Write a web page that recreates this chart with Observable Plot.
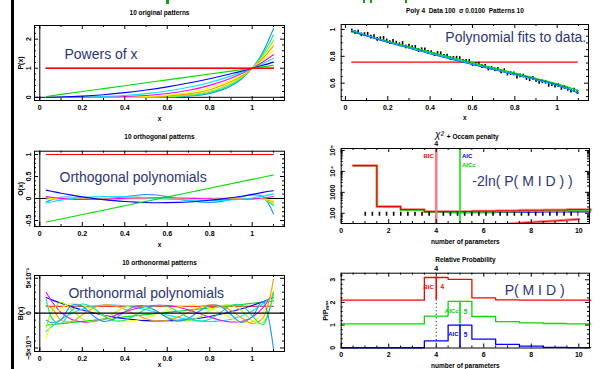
<!DOCTYPE html>
<html><head><meta charset="utf-8">
<script src="https://cdn.jsdelivr.net/npm/d3@7"></script>
<script src="https://cdn.jsdelivr.net/npm/@observablehq/plot@0.6"></script>
<style>
body{margin:0;background:#fff;}
#root{position:relative;width:609px;height:369px;overflow:hidden;background:#fff;font-family:"Liberation Sans",Arial,sans-serif;}
.deco{position:absolute;}
</style></head><body><div id="root"></div>
<script>
// ---------- DATA ----------
const colors10 = ["#ff0000","#00dd00","#0000ff","#00e5ff","#ff00ff","#ffff00","#ff9900","#99ff00","#00ee88","#1e90ff"];

// Panel 1: powers of x
const xsPow = [0.03,0.1,0.2,0.3,0.4,0.5,0.6,0.7,0.8,0.9,0.95,1.0,1.05,1.1];
const pow0 = [1,1,1,1,1,1,1,1,1,1,1,1,1,1];
const pow1 = [0.03,0.1,0.2,0.3,0.4,0.5,0.6,0.7,0.8,0.9,0.95,1.0,1.05,1.1];
const pow2 = [0.001,0.01,0.04,0.09,0.16,0.25,0.36,0.49,0.64,0.81,0.90,1.0,1.10,1.21];
const pow3 = [0,0.001,0.008,0.027,0.064,0.125,0.216,0.343,0.512,0.729,0.857,1,1.158,1.331];
const pow4 = [0,0,0.002,0.008,0.026,0.063,0.130,0.240,0.410,0.656,0.815,1,1.216,1.464];
const pow5 = [0,0,0,0.002,0.010,0.031,0.078,0.168,0.328,0.590,0.774,1,1.276,1.611];
const pow6 = [0,0,0,0.001,0.004,0.016,0.047,0.118,0.262,0.531,0.735,1,1.340,1.772];
const pow7 = [0,0,0,0,0.002,0.008,0.028,0.082,0.210,0.478,0.698,1,1.407,1.949];
const pow8 = [0,0,0,0,0.001,0.004,0.017,0.058,0.168,0.430,0.663,1,1.477,2.144];
const pow9 = [0,0,0,0,0,0.002,0.010,0.040,0.134,0.387,0.630,1,1.551,2.358];

// Panels 2 & 3 share x samples
const xsPoly = [0.03,0.06,0.10,0.15,0.20,0.25,0.30,0.35,0.40,0.45,0.50,0.55,0.60,0.65,0.70,0.75,0.80,0.85,0.90,0.95,1.00,1.05,1.10];
// Panel 2: orthogonal patterns
const orth0 = [1,1,1,1,1,1,1,1,1,1,1,1,1,1,1,1,1,1,1,1,1,1,1];
const orth1 = [-0.535,-0.505,-0.465,-0.415,-0.365,-0.315,-0.265,-0.215,-0.165,-0.115,-0.065,-0.015,0.035,0.085,0.135,0.185,0.235,0.285,0.335,0.385,0.435,0.485,0.535];
const orth2 = [0.191,0.160,0.120,0.077,0.038,0.004,-0.026,-0.049,-0.068,-0.082,-0.091,-0.096,-0.094,-0.088,-0.078,-0.061,-0.040,-0.015,0.017,0.053,0.094,0.140,0.175];
const orth3 = [-0.106,-0.072,-0.036,-0.001,0.024,0.039,0.046,0.046,0.041,0.032,0.019,0.004,-0.010,-0.024,-0.036,-0.044,-0.048,-0.044,-0.035,-0.016,0.013,0.054,0.106];
const orth4 = [0.045,0.023,0.002,-0.014,-0.019,-0.018,-0.013,-0.005,0.003,0.010,0.014,0.017,0.016,0.013,0.007,-0.001,-0.008,-0.015,-0.019,-0.018,-0.009,0.011,0.045];
const orth5 = [-0.027,-0.008,0.006,0.011,0.009,0.003,-0.003,-0.007,-0.009,-0.009,-0.006,-0.001,0.003,0.007,0.009,0.009,0.006,0.000,-0.006,-0.010,-0.010,0.000,-0.05];
const orth6 = [0.022,0.002,-0.008,-0.007,-0.002,0.004,0.007,0.006,0.003,-0.001,-0.005,-0.007,-0.006,-0.003,0.001,0.005,0.007,0.006,0.002,-0.004,-0.009,-0.004,-0.08];
const orth7 = [-0.019,0.002,0.008,0.003,-0.004,-0.006,-0.004,0.000,0.004,0.006,0.004,0.001,-0.003,-0.005,-0.005,-0.003,0.002,0.005,0.006,0.002,-0.005,-0.007,-0.12];
const orth8 = [0.016,-0.003,-0.006,0.002,0.005,0.003,-0.001,-0.004,-0.004,-0.001,0.002,0.004,0.004,0.001,-0.003,-0.005,-0.004,0.000,0.004,0.005,-0.001,-0.007,-0.16];
const orth9 = [-0.08,-0.02,0.03,0.03,0.01,-0.01,-0.01,0.01,0.04,0.07,0.09,0.08,0.04,-0.01,-0.05,-0.08,-0.09,-0.07,-0.02,0.04,0.08,0.05,-0.35];

// Panel 3: orthonormal patterns (units of 1e-3)
const on0 = [1,1,1,1,1,1,1,1,1,1,1,1,1,1,1,1,1,1,1,1,1,1,1];
const on1 = [-1.73,-1.63,-1.50,-1.34,-1.18,-1.02,-0.86,-0.70,-0.53,-0.37,-0.21,-0.05,0.11,0.28,0.44,0.60,0.76,0.92,1.08,1.25,1.41,1.57,1.73];
const on2 = [2.24,1.87,1.41,0.90,0.44,0.05,-0.30,-0.57,-0.80,-0.96,-1.07,-1.12,-1.10,-1.03,-0.91,-0.72,-0.47,-0.17,0.20,0.62,1.10,1.64,2.24];
const on3 = [-2.65,-1.80,-0.90,-0.03,0.61,0.98,1.16,1.16,1.03,0.79,0.48,0.11,-0.26,-0.61,-0.90,-1.11,-1.19,-1.11,-0.87,-0.40,0.32,1.35,2.65];
const on4 = [3.0,1.53,0.11,-0.90,-1.27,-1.20,-0.84,-0.36,0.17,0.64,0.96,1.12,1.08,0.85,0.46,-0.04,-0.56,-1.01,-1.26,-1.19,-0.57,0.75,3.0];
const on5 = [-3.6,-1.04,0.69,1.39,1.12,0.42,-0.34,-0.89,-1.15,-1.07,-0.70,-0.17,0.40,0.88,1.13,1.09,0.69,0.06,-0.70,-1.30,-1.24,0.04,3.32];
const on6 = [1.1,0.6,-1.0,-1.22,-0.25,0.72,1.17,1.07,0.53,-0.18,-0.80,-1.11,-1.03,-0.57,0.11,0.78,1.19,1.04,0.37,-0.65,-1.46,-0.72,4.9];
const on7 = [-2.0,0.39,1.55,0.53,-0.82,-1.26,-0.81,0.03,0.84,1.14,0.89,0.23,-0.53,-1.06,-1.07,-0.59,0.38,1.03,1.14,0.36,-1.09,-1.36,2.6];
const on8 = [2.0,-0.86,-1.47,0.39,1.32,0.76,-0.36,-1.09,-1.02,-0.31,0.58,1.10,0.96,0.24,-0.64,-1.15,-0.89,0.09,1.10,1.14,-0.35,-1.66,3.0];
const on9 = [-1.0,-1.38,-0.93,1.14,1.01,-0.36,-1.18,-0.84,0.18,1.0,1.03,0.30,-0.65,-1.14,-0.75,0.26,1.10,0.98,-0.20,-1.32,-0.51,1.71,-5.1];

// Panel 4: data and fits
const dataX = [0.030,0.045,0.060,0.075,0.090,0.105,0.120,0.135,0.150,0.165,0.180,0.195,0.210,0.225,0.240,0.255,0.270,0.285,0.300,0.315,0.330,0.345,0.360,0.375,0.390,0.405,0.420,0.435,0.450,0.465,0.480,0.495,0.510,0.525,0.540,0.555,0.570,0.585,0.600,0.615,0.630,0.645,0.660,0.675,0.690,0.705,0.720,0.735,0.750,0.765,0.780,0.795,0.810,0.825,0.840,0.855,0.870,0.885,0.900,0.915,0.930,0.945,0.960,0.975,0.990,1.005,1.020,1.035,1.050,1.065,1.080,1.095];
const dataY = [0.989,0.976,0.980,0.960,0.962,0.964,0.943,0.947,0.926,0.931,0.933,0.914,0.902,0.912,0.898,0.886,0.896,0.870,0.876,0.864,0.866,0.843,0.849,0.848,0.830,0.828,0.812,0.821,0.819,0.799,0.801,0.784,0.785,0.786,0.783,0.762,0.762,0.763,0.739,0.740,0.741,0.723,0.726,0.705,0.711,0.700,0.702,0.684,0.693,0.668,0.672,0.669,0.646,0.655,0.653,0.635,0.626,0.635,0.621,0.606,0.610,0.607,0.584,0.590,0.578,0.582,0.561,0.568,0.554,0.541,0.548,0.532];
const sigma = 0.01;
const fitX = [0.03,0.2,0.4,0.6,0.8,1.0,1.1];
const fitLinear = [0.982,0.912,0.832,0.753,0.674,0.594,0.545];
const fitPoly = [0.990,0.905,0.820,0.740,0.665,0.585,0.527];
const fitPoly2 = [0.992,0.907,0.822,0.742,0.664,0.583,0.531];
const meanY = 0.757;

// Panel 5: -2 ln P(M|D)
const nParams = [1,2,3,4,5,6,7,8,9,10];
const scoreBIC  = [19000,210,150,120,122,126,132,138,144,150];
const scoreAICc = [19000,205,140,113,110,112,116,126,128,130];
const scoreAIC  = [19000,203,137,111,106,107,109,113,115,117];
const chiExpect = 95;
const lowerX = [6.9,7.5,8,8.5,9,9.5,10];
const lowerY = [30,34,37,40,43,47,52];

// Panel 6: relative probability
const relBIC  = [0,0,0,1.0,0.92,0.1,0.01,0,0,0];
const relAICc = [0,0,0,0.35,1.0,0.33,0.1,0.05,0.02,0];
const relAIC  = [0,0,0,0.30,1.0,0.38,0.15,0.07,0.02,0.01];
const offBIC = 2.1, offAICc = 1.05, offAIC = 0;
const bestBIC = 4, bestAICc = 5, bestAIC = 5;

// ---------- HELPERS ----------
const NAVY = "#2b3576";
const root = document.getElementById("root");
function rows(xs, ys){ return xs.map((x,i)=>({x, y: ys[i]})); }
function seq(a,b,s){ const r=[]; for(let i=0;;i++){ const v=+(a+i*s).toFixed(6); if(v>b+1e-9) break; r.push(v);} return r; }
function minor(a,b,s,maj){ return seq(a,b,s).filter(v=>!maj.some(m=>Math.abs(m-v)<1e-9)); }
function box({xMaj,xMin,yMaj,yMin,iw,ih}){
  const M=4, m=2, st={stroke:"#000", strokeWidth:1};
  return [
    Plot.tickX(xMaj,{x:d=>d, insetTop: ih-M, ...st}),
    Plot.tickX(xMaj,{x:d=>d, insetBottom: ih-M, ...st}),
    Plot.tickX(xMin,{x:d=>d, insetTop: ih-m, ...st}),
    Plot.tickX(xMin,{x:d=>d, insetBottom: ih-m, ...st}),
    Plot.tickY(yMaj,{y:d=>d, insetRight: iw-M, ...st}),
    Plot.tickY(yMaj,{y:d=>d, insetLeft: iw-M, ...st}),
    Plot.tickY(yMin,{y:d=>d, insetRight: iw-m, ...st}),
    Plot.tickY(yMin,{y:d=>d, insetLeft: iw-m, ...st}),
    Plot.frame({stroke:"#000", strokeWidth:1})
  ];
}
function axes({xMaj,yMaj,xFmt,yFmt,xPad=5,yPad=6}){
  return [
    Plot.axisX(xMaj,{anchor:"bottom", tickSize:0, tickPadding:xPad, tickFormat:xFmt||(d=>String(d)), label:null, fontSize:7, fontWeight:"bold"}),
    Plot.axisY(yMaj,{anchor:"left", tickSize:0, tickPadding:yPad, tickRotate:-90, textAnchor:"middle", lineAnchor:"middle", tickFormat:yFmt||(d=>String(d)), label:null, fontSize:7, fontWeight:"bold"})
  ];
}
function title(str, dy){ return Plot.text([str],{frameAnchor:"top", dy, lineAnchor:"middle", fontSize:6.5, fontWeight:"bold", fill:"#000"}); }
function xlab(str, dy){ return Plot.text([str],{frameAnchor:"bottom", dy, lineAnchor:"middle", fontSize:6.5, fontWeight:"bold", fill:"#000"}); }
function ylab(str, dx){ return Plot.text([str],{frameAnchor:"left", dx, rotate:-90, textAnchor:"middle", lineAnchor:"middle", fontSize:7, fontWeight:"bold", fill:"#000"}); }
function place(svg,left,top){ svg.style.position="absolute"; svg.style.left=left+"px"; svg.style.top=top+"px"; root.appendChild(svg); }
const baseStyle = {background:"transparent", fontFamily:"'Liberation Sans', Arial, sans-serif", fontSize:"7px", fontWeight:"bold", overflow:"visible"};
function stepRows(xsP, vals, off, start, end){
  const r=[]; if(start!=null) r.push({x:start, y:off+vals[0]});
  xsP.forEach((p,i)=>{ r.push({x:p-0.5,y:off+vals[i]}); r.push({x:p+0.5,y:off+vals[i]}); });
  r.push({x:end, y:off+vals[vals.length-1]});
  return r;
}

// ---------- PANEL 1 ----------
{
  const W=300,H=125,mL=34,mR=16,mT=25,mB=25, iw=W-mL-mR, ih=H-mT-mB;
  const xMaj=seq(0,1,0.2), yMaj=[0,1,2];
  const series=[pow0,pow1,pow2,pow3,pow4,pow5,pow6,pow7,pow8,pow9];
  const marks=[
    Plot.ruleY([0],{stroke:"#000"}), Plot.ruleX([0],{stroke:"#000"}),
    ...series.map((s,k)=>Plot.line(rows(xsPow,s),{x:"x",y:"y",stroke:colors10[(k+0)%10], strokeWidth:1.1, curve:"monotone-x"})).reverse(),
    Plot.line(rows(xsPow,pow0),{x:"x",y:"y",stroke:colors10[0],strokeWidth:1.6}),
    Plot.text(["Powers of x"],{x:0.116,y:1.334,textAnchor:"start",lineAnchor:"bottom",fontSize:14,fontWeight:"normal",fill:NAVY}),
    ...box({xMaj,xMin:minor(0,1.1,0.1,xMaj),yMaj,yMin:minor(0,2.4,0.2,yMaj),iw,ih}),
    ...axes({xMaj,yMaj}),
    title("10 original patterns",-13), xlab("x",18), ylab("P(x)",-14)
  ];
  place(Plot.plot({width:W,height:H,marginLeft:mL,marginRight:mR,marginTop:mT,marginBottom:mB,
    x:{domain:[-0.025,1.152]}, y:{domain:[-0.11,2.47]}, style:baseStyle, marks}),0,0);
}
// ---------- PANEL 2 ----------
{
  const W=300,H=125,mL=34,mR=16,mT=25.7,mB=24, iw=W-mL-mR, ih=H-mT-mB;
  const xMaj=seq(0,1,0.2), yMaj=[-0.5,0,0.5,1];
  const series=[orth0,orth1,orth2,orth3,orth4,orth5,orth6,orth7,orth8,orth9];
  const marks=[
    Plot.ruleY([0],{stroke:"#000"}), Plot.ruleX([0],{stroke:"#000"}),
    ...series.map((s,k)=>Plot.line(rows(xsPoly,s),{x:"x",y:"y",stroke:colors10[k], strokeWidth:1.1, curve:"catmull-rom"})).reverse(),
    Plot.text(["Orthogonal polynomials"],{x:0.093,y:0.364,textAnchor:"start",lineAnchor:"bottom",fontSize:14,fontWeight:"normal",fill:NAVY}),
    ...box({xMaj,xMin:minor(0,1.1,0.1,xMaj),yMaj,yMin:minor(-0.6,1.0,0.1,yMaj),iw,ih}),
    ...axes({xMaj,yMaj}),
    title("10 orthogonal patterns",-14.7), xlab("x",18), ylab("O(x)",-14)
  ];
  place(Plot.plot({width:W,height:H,marginLeft:mL,marginRight:mR,marginTop:mT,marginBottom:mB,
    x:{domain:[-0.025,1.152]}, y:{domain:[-0.636,1.075]}, style:baseStyle, marks}),0,125);
}
// ---------- PANEL 3 ----------
{
  const W=300,H=119,mL=34,mR=16,mT=25,mB=18, iw=W-mL-mR, ih=H-mT-mB;
  const xMaj=seq(0,1,0.2), yMaj=[-5,0,5];
  const series=[on0,on1,on2,on3,on4,on5,on6,on7,on8,on9];
  const yFmt = d => d===0 ? "0" : (d<0 ? "\u22125\u00d710\u207b\u00b3" : "5\u00d710\u207b\u00b3");
  const marks=[
    Plot.ruleX([0],{stroke:"#000"}),
    ...series.map((s,k)=>Plot.line(rows(xsPoly,s),{x:"x",y:"y",stroke:colors10[k], strokeWidth:1.1, curve:"catmull-rom", clip:true})),
    Plot.ruleY([0],{stroke:"#000", strokeWidth:1.4}),
    Plot.text(["Orthonormal polynomials"],{x:0.135,y:2.24,textAnchor:"start",lineAnchor:"bottom",fontSize:14,fontWeight:"normal",fill:NAVY}),
    ...box({xMaj,xMin:minor(0,1.1,0.1,xMaj),yMaj,yMin:minor(-5,5,1,yMaj),iw,ih}),
    ...axes({xMaj,yMaj,yFmt}),
    title("10 orthonormal patterns",-13), xlab("x",13.5), ylab("B(x)",-14)
  ];
  place(Plot.plot({width:W,height:H,marginLeft:mL,marginRight:mR,marginTop:mT,marginBottom:mB,
    x:{domain:[-0.025,1.152]}, y:{domain:[-5.5,5.4]}, style:baseStyle, marks}),0,250);
}
// ---------- PANEL 4 ----------
{
  const W=309,H=125,mL=40.7,mR=21,mT=24,mB=25, iw=W-mL-mR, ih=H-mT-mB;
  const xMaj=seq(0,1,0.2), yMaj=[0.6,0.8,1];
  const pts=rows(dataX,dataY);
  const marks=[
    Plot.ruleY([meanY],{x1:fitX[0],x2:fitX[fitX.length-1],stroke:"#ff0000",strokeWidth:1.3}),
    Plot.ruleX(pts,{x:"x",y1:d=>d.y-1.4*sigma,y2:d=>d.y+1.4*sigma,stroke:"#000",strokeWidth:1.6}),
    Plot.line(rows(fitX,fitLinear),{x:"x",y:"y",stroke:"#00dd00",strokeWidth:1.3,curve:"natural"}),
    Plot.line(rows(fitX,fitPoly),{x:"x",y:"y",stroke:"#0000ff",strokeWidth:1.3,curve:"natural"}),
    Plot.line(rows(fitX,fitPoly2),{x:"x",y:"y",stroke:"#00bfff",strokeWidth:1.1,curve:"natural"}),
    Plot.text(["Polynomial fits to data."],{x:0.472,y:0.907,textAnchor:"start",lineAnchor:"bottom",fontSize:14,fontWeight:"normal",fill:NAVY}),
    ...box({xMaj,xMin:minor(0,1.1,0.1,xMaj),yMaj,yMin:minor(0.5,1.0,0.05,yMaj),iw,ih}),
    ...axes({xMaj,yMaj,yPad:8.5,xPad:4.5}),
    title("Poly 4  Data 100  \u03c3 0.0100  Patterns 10",-14), xlab("x",17)
  ];
  place(Plot.plot({width:W,height:H,marginLeft:mL,marginRight:mR,marginTop:mT,marginBottom:mB,
    x:{domain:[-0.02,1.148]}, y:{domain:[0.471,1.037]}, style:baseStyle, marks}),300,0);
}
// ---------- PANEL 5 ----------
{
  const W=309,H=125,mL=40.7,mR=20,mT=23,mB=27, iw=W-mL-mR, ih=H-mT-mB;
  const xMaj=seq(0,10,2), yMaj=[100,1000,10000,100000];
  const yMin=[]; [10,100,1000,10000].forEach(d=>{for(let k=2;k<=9;k++){const v=d*k; if(v>32&&v<124000) yMin.push(v);}});
  const yFmt=d=>({100:"100",1000:"1000",10000:"10\u2074",100000:"10\u2075"})[d];
  const end=10.45;
  const marks=[
    Plot.line(stepRows(nParams,scoreAIC,0,null,end),{x:"x",y:"y",stroke:"#0000ff",strokeWidth:1.2}),
    Plot.line(stepRows(nParams,scoreBIC,0,null,end),{x:"x",y:"y",stroke:"#ff9a9a",strokeWidth:3}),
    Plot.line(stepRows(nParams,scoreAICc,0,null,end),{x:"x",y:"y",stroke:"#00dd00",strokeWidth:1.3}),
    Plot.line(stepRows(nParams,scoreBIC,0,null,end),{x:"x",y:"y",stroke:"#ee0000",strokeWidth:1.1}),
    Plot.line(rows(lowerX,lowerY),{x:"x",y:"y",stroke:"#ff9a9a",strokeWidth:3,clip:true}),
    Plot.line(rows(lowerX,lowerY),{x:"x",y:"y",stroke:"#ee0000",strokeWidth:1,clip:true}),
    Plot.ruleY([chiExpect],{x1:nParams[0],x2:nParams[nParams.length-1],stroke:"#000",strokeWidth:4,strokeDasharray:"1.6,5.5"}),
    Plot.ruleX([bestBIC],{stroke:"#ff7a7a",strokeWidth:2.6}),
    Plot.ruleX([bestAICc],{stroke:"#00dd00",strokeWidth:1.5}),
    Plot.text(["BIC"],{x:bestBIC,y:51600,dx:-2.5,textAnchor:"end",fill:"#ff0000",fontSize:6,fontWeight:"bold"}),
    Plot.text(["AIC"],{x:bestAICc,y:51600,dx:2,textAnchor:"start",fill:"#0000ff",fontSize:6,fontWeight:"bold"}),
    Plot.text(["AICc"],{x:bestAICc,y:19100,dx:2,textAnchor:"start",fill:"#00cc00",fontSize:6,fontWeight:"bold"}),
    Plot.text([bestBIC],{x:d=>d,text:d=>String(d),frameAnchor:"top",dy:-5,lineAnchor:"middle",fontSize:7,fontWeight:"bold"}),
    Plot.text(["-2ln( P( M I D ) )"],{x:5.52,y:2090,textAnchor:"start",lineAnchor:"bottom",fontSize:14,fontWeight:"normal",fill:NAVY}),
    ...box({xMaj,xMin:minor(0,10.4,0.5,xMaj),yMaj,yMin,iw,ih}),
    ...axes({xMaj,yMaj,yFmt,yPad:8.5,xPad:4.5}),
    Plot.text(["\u03c7\u00b2"],{frameAnchor:"top",dy:-14,dx:-26,lineAnchor:"middle",fontSize:10,fontWeight:"normal",fontStyle:"italic"}),
    Plot.text(["+ Occam penalty"],{frameAnchor:"top",dy:-12,dx:-18.5,textAnchor:"start",lineAnchor:"middle",fontSize:6.5,fontWeight:"bold"}),
    xlab("number of parameters",18.7)
  ];
  place(Plot.plot({width:W,height:H,marginLeft:mL,marginRight:mR,marginTop:mT,marginBottom:mB,
    x:{domain:[0,10.45]}, y:{type:"log",domain:[Math.pow(10,1.51),Math.pow(10,5.095)]}, style:baseStyle, marks}),300,125);
}
// ---------- PANEL 6 ----------
{
  const W=309,H=119,mL=40.7,mR=20,mT=22.7,mB=21.5, iw=W-mL-mR, ih=H-mT-mB;
  const xMaj=seq(0,10,2), yMaj=[0,1,2,3];
  const end=10.45;
  const marks=[
    Plot.ruleX([bestBIC],{y1:0,y2:offBIC,stroke:"#000",strokeWidth:1,strokeDasharray:"1,2.6"}),
    Plot.line(stepRows(nParams,relAIC,offAIC,0,end),{x:"x",y:"y",stroke:"#0000ff",strokeWidth:1.3}),
    Plot.line(stepRows(nParams,relAICc,offAICc,0,end),{x:"x",y:"y",stroke:"#00dd00",strokeWidth:1.3}),
    Plot.line(stepRows(nParams,relBIC,offBIC,0,end),{x:"x",y:"y",stroke:"#ff0000",strokeWidth:1.3}),
    Plot.ruleX([bestBIC],{y1:offBIC,y2:offBIC+1,stroke:"#ff0000",strokeWidth:1.6}),
    Plot.ruleX([bestAICc],{y1:offAICc,y2:offAICc+1,stroke:"#00dd00",strokeWidth:1.6}),
    Plot.ruleX([bestAIC],{y1:offAIC,y2:offAIC+1,stroke:"#0000ff",strokeWidth:1.6}),
    Plot.text(["BIC"],{x:bestBIC,y:2.67,dx:-2.5,textAnchor:"end",fill:"#ff0000",fontSize:6,fontWeight:"bold"}),
    Plot.text([String(bestBIC)],{x:bestBIC,y:2.67,dx:6,fill:"#ff0000",fontSize:6.5,fontWeight:"bold"}),
    Plot.text(["AICc"],{x:bestAICc,y:1.60,dx:-1.5,textAnchor:"end",fill:"#00cc00",fontSize:6,fontWeight:"bold"}),
    Plot.text([String(bestAICc)],{x:bestAICc,y:1.60,dx:5.5,fill:"#00cc00",fontSize:6.5,fontWeight:"bold"}),
    Plot.text(["AIC"],{x:bestAIC,y:0.585,dx:-1.5,textAnchor:"end",fill:"#0000ff",fontSize:6,fontWeight:"bold"}),
    Plot.text([String(bestAIC)],{x:bestAIC,y:0.585,dx:5.5,fill:"#0000ff",fontSize:6.5,fontWeight:"bold"}),
    Plot.text([bestBIC],{x:d=>d,text:d=>String(d),frameAnchor:"top",dy:-4.7,lineAnchor:"middle",fontSize:7,fontWeight:"bold"}),
    Plot.text(["P( M I D )"],{x:6.88,y:2.35,textAnchor:"start",lineAnchor:"bottom",fontSize:14,fontWeight:"normal",fill:NAVY}),
    ...box({xMaj,xMin:minor(0,10.4,0.5,xMaj),yMaj,yMin:minor(0,3.2,0.2,yMaj),iw,ih}),
    ...axes({xMaj,yMaj,yPad:8,xPad:4.5}),
    title("Relative Probability",-13.7), xlab("number of parameters",17.5), ylab("P/P\u2098\u2090\u2093",-15.7)
  ];
  place(Plot.plot({width:W,height:H,marginLeft:mL,marginRight:mR,marginTop:mT,marginBottom:mB,
    x:{domain:[0,10.45]}, y:{domain:[-0.01,3.29]}, style:baseStyle, marks}),300,250);
}
// decorations: slide edge bar and clipped heading fragments
[["#000",11,0,3,369],["#1a9a1a",166,0,3,4],["#1a9a1a",363,0,2,3],["#1a9a1a",370,0,2,3],["#1a9a1a",405,0,2,3]].forEach(([c,l,t,w,h])=>{
  const d=document.createElement("div"); d.className="deco";
  Object.assign(d.style,{left:l+"px",top:t+"px",width:w+"px",height:h+"px",background:c}); root.appendChild(d);
});
</script></body></html>
